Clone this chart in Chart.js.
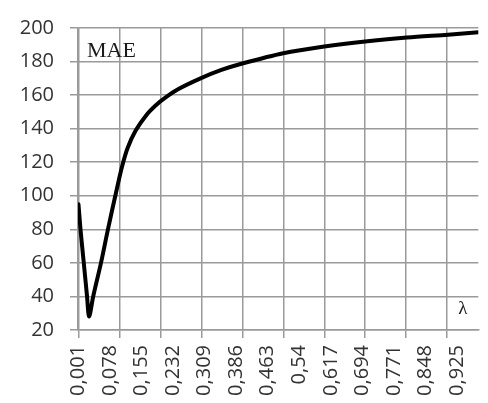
<!DOCTYPE html>
<html>
<head>
<meta charset="utf-8">
<script src="https://cdn.jsdelivr.net/npm/chart.js@4"></script>
<style>
  html, body { margin: 0; padding: 0; background: #fff; }
</style>
</head>
<body>
<canvas id="myChart" width="488" height="403"></canvas>
<script>
// values
const lambda = [0.001, 0.006, 0.014, 0.022, 0.027, 0.037, 0.056, 0.073, 0.091, 0.107,
                0.121, 0.141, 0.168, 0.190, 0.213, 0.244, 0.299, 0.350, 0.403, 0.501,
                0.601, 0.701, 0.803, 0.903, 0.977];
const mae = [95, 80, 60, 40, 28, 40, 60, 80, 100, 117,
             128.5, 139, 148.5, 154, 158.5, 163.5, 170, 175, 179, 185,
             189, 192, 194.3, 196, 197.4];

const gridTicks = [0.001, 0.101, 0.201, 0.301, 0.401, 0.501, 0.601, 0.701, 0.801, 0.901];
const labelTicks = [0.001, 0.078, 0.155, 0.232, 0.309, 0.386, 0.463, 0.54, 0.617, 0.694, 0.771, 0.848, 0.925];
const yTicks = [20, 40, 60, 80, 100, 120, 140, 160, 180, 200];

const gridColor = '#9a9a9a';
const has = (arr, v) => arr.some(t => Math.abs(t - v) < 1e-9);
const xGrid = ctx => has(gridTicks, ctx.tick.value) ? gridColor : 'rgba(0,0,0,0)';

// text labels inside the plot
const captions = {
  id: 'captions',
  afterDraw(chart) {
    const c = chart.ctx, a = chart.chartArea;
    c.save();
    c.fillStyle = '#1a1a1a';
    c.font = '22px "Liberation Serif"';
    c.fillText('MAE', a.left + 9, a.top + 29);
    c.font = '19px "Liberation Serif"';
    c.fillText('λ', a.right - 20, a.bottom - 16);
    c.restore();
  }
};

let myChart = document.getElementById('myChart').getContext('2d');
let maeChart = new Chart(myChart, {
  type: 'line',
  data: {
    datasets: [{
      label: 'MAE',
      data: lambda.map((l, i) => ({ x: l, y: mae[i] })),
      borderColor: '#000',
      borderWidth: 4,
      borderJoinStyle: 'round',
      borderCapStyle: 'round',
      pointRadius: 0,
      tension: 0.3,
      fill: false
    }]
  },
  options: {
    responsive: false,
    animation: false,
    layout: { padding: { top: 26, right: 0, left: 0, bottom: 0 } },
    plugins: { legend: { display: false }, tooltip: { enabled: false } },
    scales: {
      x: {
        type: 'linear',
        min: -0.0001,
        max: 0.977,
        afterBuildTicks: axis => {
          const vals = [...new Set([...gridTicks, ...labelTicks])].sort((a, b) => a - b);
          axis.ticks = vals.map(v => ({ value: v }));
        },
        afterFit: axis => { axis.height = 73; },
        grid: { color: xGrid, tickColor: xGrid, lineWidth: 1.5, tickLength: 8 },
        border: { color: gridColor, width: 1.5 },
        ticks: {
          autoSkip: false,
          minRotation: 90,
          maxRotation: 90,
          padding: 7,
          color: '#333',
          font: { family: '"Open Sans"', size: 20 },
          callback: v => has(labelTicks, v) ? String(Number(v.toFixed(3))).replace('.', ',') : ''
        }
      },
      y: {
        min: 20,
        max: 200,
        afterBuildTicks: axis => { axis.ticks = yTicks.map(v => ({ value: v })); },
        afterFit: axis => { axis.width = 78; },
        grid: { color: gridColor, lineWidth: 1.5, tickLength: 8 },
        border: { color: gridColor, width: 1.5 },
        ticks: {
          padding: 16,
          color: '#333',
          font: { family: '"Open Sans"', size: 20 }
        }
      }
    }
  },
  plugins: [captions]
});
</script>
</body>
</html>
